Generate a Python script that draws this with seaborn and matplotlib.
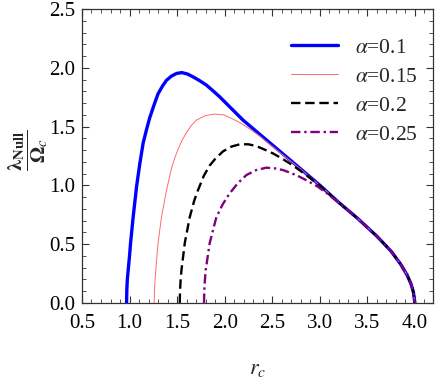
import numpy as np
import pandas as pd
import seaborn as sns
import matplotlib
matplotlib.use("Agg")
import matplotlib.pyplot as plt
from matplotlib.ticker import MultipleLocator

# ---- data ----
r_a010 = [0.969, 0.972, 0.977, 0.986, 1.000, 1.011, 1.038, 1.074, 1.109, 1.143, 1.180,
          1.214, 1.260, 1.300, 1.350, 1.389, 1.440, 1.494, 1.550, 1.610, 1.668, 1.740,
          1.808, 1.878, 1.948, 2.053, 2.193, 2.400, 2.600, 2.800, 3.000, 3.200, 3.400,
          3.600, 3.750, 3.850, 3.920, 3.960, 3.985, 4.000]
v_a010 = [0.000, 0.120, 0.200, 0.280, 0.400, 0.510, 0.730, 0.990, 1.190, 1.360, 1.480,
          1.580, 1.690, 1.780, 1.850, 1.895, 1.930, 1.953, 1.960, 1.948, 1.924, 1.890,
          1.854, 1.805, 1.754, 1.669, 1.556, 1.414, 1.277, 1.140, 1.002, 0.855, 0.718,
          0.568, 0.440, 0.330, 0.235, 0.160, 0.090, 0.000]

r_a015 = [1.259, 1.262, 1.267, 1.276, 1.300, 1.336, 1.389, 1.441, 1.476, 1.511, 1.550,
          1.599, 1.650, 1.703, 1.800, 1.895, 1.990, 2.088, 2.180, 2.263, 2.368, 2.450,
          2.550, 2.650, 2.800, 3.000, 3.200, 3.400, 3.600, 3.750, 3.850, 3.920, 3.960,
          3.985, 4.000]
v_a015 = [0.000, 0.100, 0.180, 0.280, 0.510, 0.730, 0.960, 1.145, 1.235, 1.310, 1.380,
          1.450, 1.510, 1.556, 1.595, 1.607, 1.600, 1.565, 1.525, 1.480, 1.420, 1.365,
          1.300, 1.235, 1.138, 1.001, 0.855, 0.718, 0.568, 0.440, 0.330, 0.235, 0.160,
          0.090, 0.000]

r_a020 = [1.528, 1.531, 1.536, 1.546, 1.581, 1.633, 1.680, 1.720, 1.780, 1.843, 1.900,
          1.983, 2.070, 2.158, 2.250, 2.333, 2.420, 2.507, 2.600, 2.683, 2.770, 2.858,
          2.950, 3.050, 3.200, 3.400, 3.600, 3.750, 3.850, 3.920, 3.960, 3.985, 4.000]
v_a020 = [0.000, 0.100, 0.180, 0.280, 0.510, 0.730, 0.870, 0.960, 1.080, 1.170, 1.225,
          1.290, 1.330, 1.350, 1.350, 1.335, 1.305, 1.273, 1.230, 1.188, 1.140, 1.088,
          1.030, 0.965, 0.855, 0.718, 0.568, 0.440, 0.330, 0.235, 0.160, 0.090, 0.000]

r_a025 = [1.783, 1.786, 1.791, 1.801, 1.843, 1.913, 1.980, 2.053, 2.140, 2.228, 2.330,
          2.438, 2.530, 2.612, 2.700, 2.788, 2.880, 2.980, 3.080, 3.180, 3.300, 3.400,
          3.600, 3.750, 3.850, 3.920, 3.960, 3.985, 4.000]
v_a025 = [0.000, 0.100, 0.180, 0.280, 0.510, 0.730, 0.840, 0.933, 1.020, 1.088, 1.130,
          1.151, 1.145, 1.131, 1.105, 1.074, 1.035, 0.989, 0.930, 0.865, 0.785, 0.718,
          0.568, 0.440, 0.330, 0.235, 0.160, 0.090, 0.000]

labels = [r"$\alpha$=0.1", r"$\alpha$=0.15", r"$\alpha$=0.2", r"$\alpha$=0.25"]
x_ticks = [0.5, 1.0, 1.5, 2.0, 2.5, 3.0, 3.5, 4.0]
y_ticks = [0.0, 0.5, 1.0, 1.5, 2.0, 2.5]

# ---- style ----
sns.set_theme(style="ticks")
plt.rcParams["font.family"] = ["Liberation Serif", "DejaVu Serif"]
plt.rcParams["mathtext.fontset"] = "stix"
plt.rcParams["axes.edgecolor"] = "#333333"
plt.rcParams["axes.linewidth"] = 0.9

fig = plt.figure(figsize=(4.36, 3.82), dpi=100)
ax = fig.add_axes([0.188, 0.207, 0.805, 0.769])

series = [
    (r_a010, v_a010, "#0000ff", 2.4, "-"),
    (r_a015, v_a015, "#ff6a6a", 0.7, "-"),
    (r_a020, v_a020, "black", 1.7, (0, (4, 2))),
    (r_a025, v_a025, "#800080", 1.7, (0, (4, 1.6, 1, 1.6))),
]
for (r, v, c, lw, ls), lab in zip(series, labels):
    df = pd.DataFrame({"r": r, "v": v})
    sns.lineplot(data=df, x="r", y="v", ax=ax, color=c, lw=lw, linestyle=ls,
                 sort=False, estimator=None, label=lab)

ax.set_xlim(0.5, 4.19)
ax.set_ylim(0.0, 2.5)
ax.set_xticks(x_ticks)
ax.set_yticks(y_ticks)
ax.set_xticklabels([f"{t:.1f}" for t in x_ticks])
ax.set_yticklabels([f"{t:.1f}" for t in y_ticks])
ax.xaxis.set_minor_locator(MultipleLocator(0.1))
ax.yaxis.set_minor_locator(MultipleLocator(0.1))
ax.tick_params(which="both", direction="in", top=True, right=True,
               colors="#333333", labelcolor="black", labelsize=15)
ax.tick_params(which="major", length=5, width=0.8)
ax.tick_params(axis="x", which="major", pad=8)
ax.tick_params(axis="y", which="major", pad=5)
ax.tick_params(which="minor", length=3, width=0.6)

ax.set_xlabel(r"$r_c$", fontsize=16)
ax.xaxis.set_label_coords(0.5, -0.195)
ax.set_ylabel(r"$\dfrac{\mathbf{\lambda}_{\mathbf{Null}}}{\mathbf{\Omega}_c}$",
              fontsize=15)
ax.yaxis.set_label_coords(-0.09, 0.52)

leg = ax.legend(loc="upper right", frameon=False, fontsize=15.5,
                handlelength=2.2, handletextpad=0.8, labelspacing=0.42,
                borderaxespad=0.3, bbox_to_anchor=(1.0, 0.955))

fig.savefig("out.png", dpi=100)
